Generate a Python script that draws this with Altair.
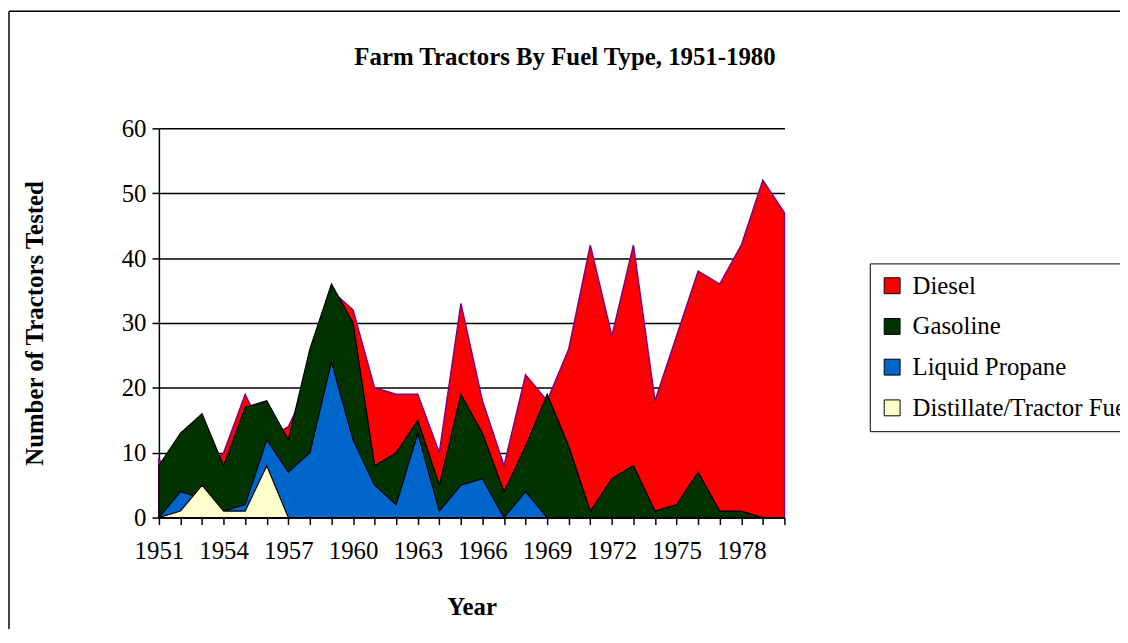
import altair as alt
import pandas as pd

years = list(range(1951, 1981))
fuels = ["Diesel", "Gasoline", "Liquid Propane", "Distillate/Tractor Fuel"]
fill_colors = ["#FF0000", "#003300", "#0066CC", "#FFFFCC"]
stroke_colors = ["#800080", "#000000", "#000000", "#000000"]

diesel = [9, 5, 7, 10, 19, 12, 14, 21, 35, 32, 20, 19, 19, 10, 33, 18, 8, 22, 18, 26,
          42, 28, 42, 18, 28, 38, 36, 42, 52, 47]
gasoline = [8, 13, 16, 8, 17, 18, 12, 26, 36, 30, 8, 10, 15, 5, 19, 13, 4, 11, 19, 11,
            1, 6, 8, 1, 2, 7, 1, 1, 0, 0]
propane = [0, 4, 3, 1, 2, 12, 7, 10, 24, 12, 5, 2, 13, 1, 5, 6, 0, 4, 0, 0,
           0, 0, 0, 0, 0, 0, 0, 0, 0, 0]
distillate = [0, 1, 5, 1, 1, 8, 0, 0, 0, 0, 0, 0, 0, 0, 0, 0, 0, 0, 0, 0,
              0, 0, 0, 0, 0, 0, 0, 0, 0, 0]
y_ticks = [0, 10, 20, 30, 40, 50, 60]
title_text = "Farm Tractors By Fuel Type, 1951-1980"

series = [diesel, gasoline, propane, distillate]
rows = []
for f, vals in zip(fuels, series):
    for yr, v in zip(years, vals):
        rows.append({"Year": yr, "Fuel": f, "Count": v})
df = pd.DataFrame(rows)

FONT = "Liberation Serif"
W, H = 630, 392

color = alt.Color(
    "Fuel:N",
    scale=alt.Scale(domain=fuels, range=fill_colors),
    sort=fuels,
    legend=alt.Legend(
        title=None, orient="none", legendX=716, legendY=136,
        symbolType="square", symbolSize=256, symbolStrokeColor="black",
        symbolStrokeWidth=1, labelFont=FONT, labelFontSize=25, labelLimit=500,
        labelOffset=8, rowPadding=15, padding=10, strokeColor="black",
        labelColor="black",
    ),
)

x_enc = alt.X(
    "Year:Q",
    scale=alt.Scale(domain=[1951, 1980], nice=False, zero=False),
    axis=alt.Axis(
        values=years, format="d",
        labelExpr="(datum.value - 1951) % 3 === 0 ? datum.label : ''",
        labelOverlap=False, labelFlush=False, grid=False, tickSize=7, tickWidth=1.5,
        tickColor="black", domainColor="black", domainWidth=1.5,
        labelFont=FONT, labelFontSize=25, labelColor="black", labelPadding=14,
        title="Year", titleFont=FONT, titleFontSize=25, titleFontWeight="bold",
        titleColor="black", titleY=90, titleBaseline="middle",
    ),
)
y_enc = alt.Y(
    "Count:Q",
    stack=None,
    scale=alt.Scale(domain=[0, 60], nice=False),
    axis=alt.Axis(
        values=y_ticks, grid=True, gridColor="black", gridWidth=1.5,
        tickSize=7, tickWidth=1.5, tickColor="black", domainColor="black",
        domainWidth=1.5, labelFont=FONT, labelFontSize=25, labelColor="black",
        labelPadding=6, title="Number of Tractors Tested", titleFont=FONT,
        titleFontSize=25, titleFontWeight="bold", titleColor="black",
        titleX=-125, titleY=H / 2, titleAngle=270, titleAlign="center",
        titleBaseline="middle",
    ),
)

layers = []
for f, sc in zip(fuels, stroke_colors):
    layers.append(
        alt.Chart(df)
        .transform_filter(alt.datum.Fuel == f)
        .mark_area(stroke=sc, strokeWidth=1.5 if f == "Diesel" else 1.2,
                   interpolate="linear", clip=False)
        .encode(x=x_enc, y=y_enc, color=color)
    )

one = alt.Data(values=[{"t": title_text}])
frame_left = alt.Chart(one).mark_rule(color="black", strokeWidth=1.5).encode(
    x=alt.value(-151), y=alt.value(-118), y2=alt.value(H + 120)
)
frame_top = alt.Chart(one).mark_rule(color="black", strokeWidth=1.5).encode(
    x=alt.value(-151), x2=alt.value(1000), y=alt.value(-118)
)
title = alt.Chart(one).mark_text(
    font=FONT, fontSize=25, fontWeight="bold", color="black",
    align="center", baseline="middle",
).encode(text="t:N", x=alt.value(409), y=alt.value(-72))

chart = (
    alt.layer(frame_left, frame_top, title, *layers)
    .properties(
        width=W, height=H,
        autosize=alt.AutoSizeParams(type="none"),
        padding={"left": 152, "top": 119, "right": 338, "bottom": 110},
    )
    .configure_view(stroke=None)
    .configure_axis(zindex=0)
)

chart.save("out.html", embed_options={"renderer": "svg", "actions": False})
